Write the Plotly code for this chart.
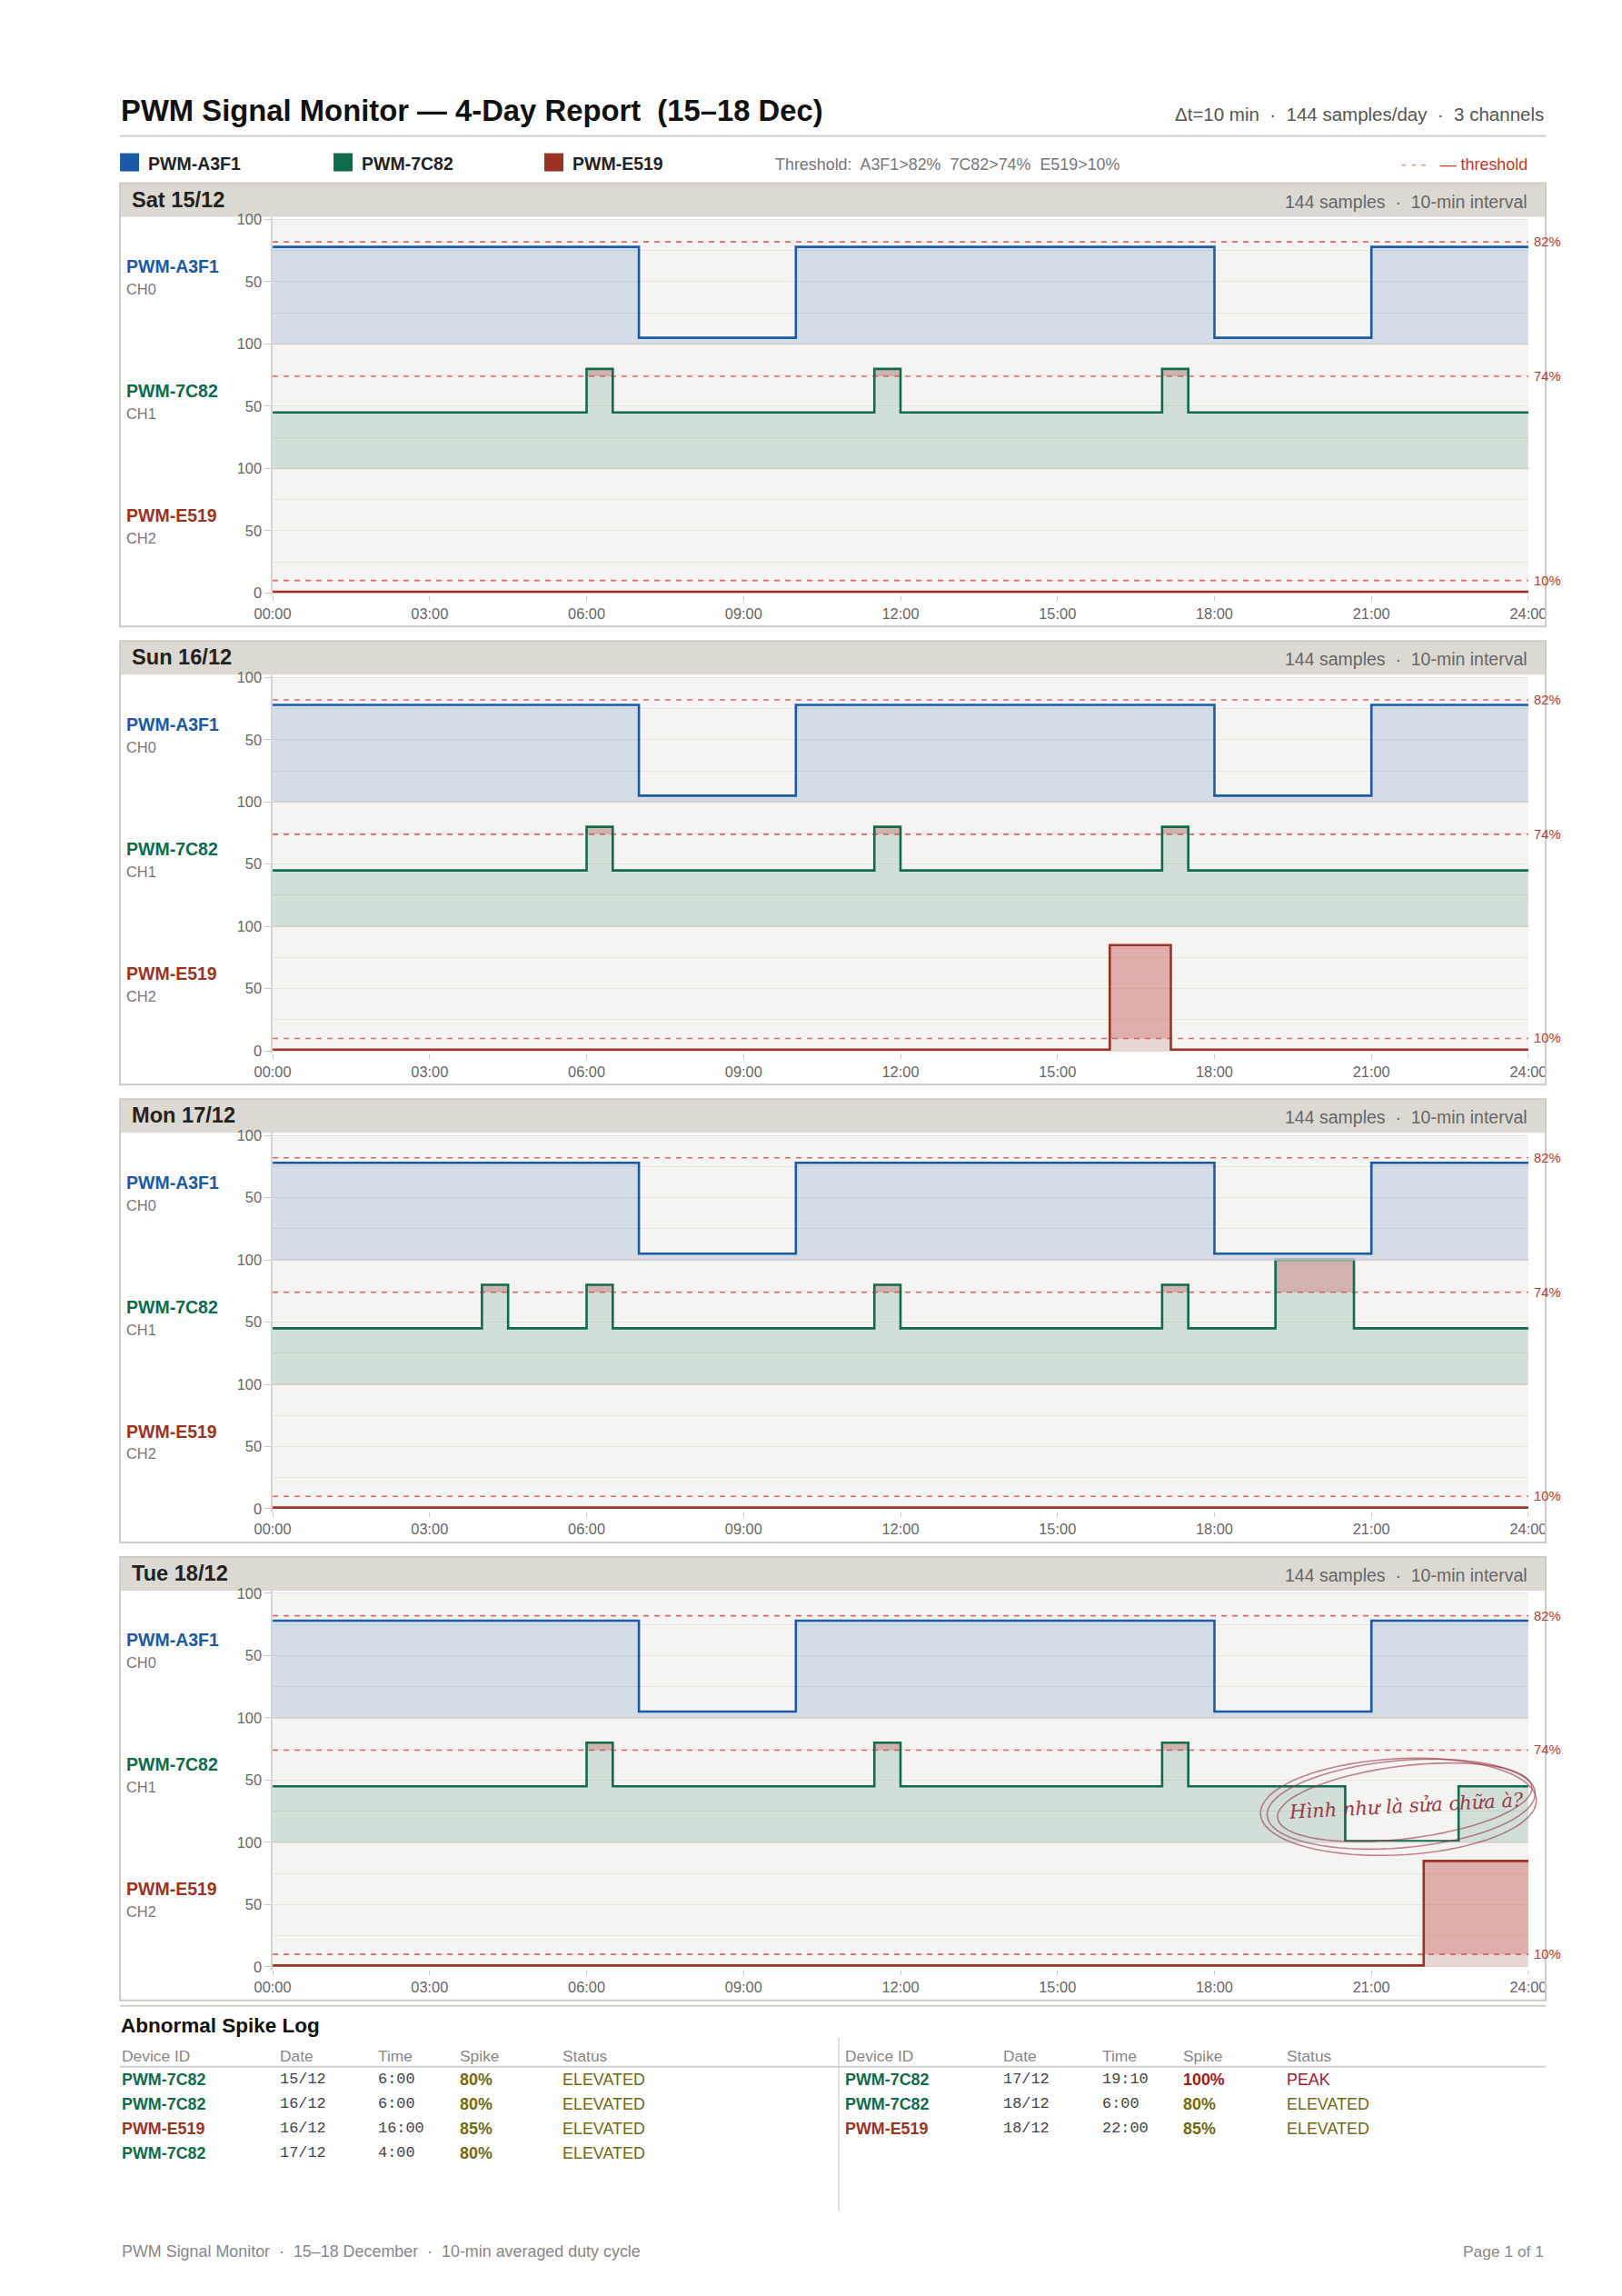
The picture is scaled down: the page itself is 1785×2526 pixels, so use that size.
import math
import plotly.graph_objects as go

# ---------------- data ----------------
days = ["Sat 15/12", "Sun 16/12", "Mon 17/12", "Tue 18/12"]
channel_ids = ["PWM-A3F1", "PWM-7C82", "PWM-E519"]
channel_codes = ["CH0", "CH1", "CH2"]
thresholds = [82, 74, 10]
hour_tick_labels = ["00:00", "03:00", "06:00", "09:00", "12:00", "15:00", "18:00", "21:00", "24:00"]

# step series: time at which each level starts (10-min resolution) and duty cycle %
a3f1_times = [
    ["00:00", "07:00", "10:00", "18:00", "21:00", "24:00"],
    ["00:00", "07:00", "10:00", "18:00", "21:00", "24:00"],
    ["00:00", "07:00", "10:00", "18:00", "21:00", "24:00"],
    ["00:00", "07:00", "10:00", "18:00", "21:00", "24:00"],
]
a3f1_values = [
    [78, 5, 78, 5, 78, 78],
    [78, 5, 78, 5, 78, 78],
    [78, 5, 78, 5, 78, 78],
    [78, 5, 78, 5, 78, 78],
]
c7c82_times = [
    ["00:00", "06:00", "06:30", "11:30", "12:00", "17:00", "17:30", "24:00"],
    ["00:00", "06:00", "06:30", "11:30", "12:00", "17:00", "17:30", "24:00"],
    ["00:00", "04:00", "04:30", "06:00", "06:30", "11:30", "12:00", "17:00", "17:30", "19:10", "20:40", "24:00"],
    ["00:00", "06:00", "06:30", "11:30", "12:00", "17:00", "17:30", "20:30", "22:40", "24:00"],
]
c7c82_values = [
    [45, 80, 45, 80, 45, 80, 45, 45],
    [45, 80, 45, 80, 45, 80, 45, 45],
    [45, 80, 45, 80, 45, 80, 45, 80, 45, 100, 45, 45],
    [45, 80, 45, 80, 45, 80, 45, 1, 45, 45],
]
e519_times = [
    ["00:00", "24:00"],
    ["00:00", "16:00", "17:10", "24:00"],
    ["00:00", "24:00"],
    ["00:00", "22:00", "24:00"],
]
e519_values = [
    [1, 1],
    [1, 85, 1, 1],
    [1, 1],
    [1, 85, 85],
]

log_device = ["PWM-7C82", "PWM-7C82", "PWM-E519", "PWM-7C82", "PWM-7C82", "PWM-7C82", "PWM-E519"]
log_date = ["15/12", "16/12", "16/12", "17/12", "17/12", "18/12", "18/12"]
log_time = ["6:00", "6:00", "16:00", "4:00", "19:10", "6:00", "22:00"]
log_spike = [80, 80, 85, 80, 100, 80, 85]
log_status = ["ELEVATED", "ELEVATED", "ELEVATED", "ELEVATED", "PEAK", "ELEVATED", "ELEVATED"]
log_headers = ["Device ID", "Date", "Time", "Spike", "Status"]

# ---------------- style ----------------
W, H = 1785, 2526
FONT = "Liberation Sans"
MONO = "Liberation Mono"
line_colors = ["#1c5aa6", "#0e6b4c", "#9b3324"]
fill_colors = ["rgba(28,90,166,0.15)", "rgba(14,107,76,0.15)", "rgba(155,51,36,0.15)"]
exceed_fill = "rgba(205,80,80,0.30)"
thr_color = "rgba(210,80,85,0.85)"
thr_label_color = "#c0392b"
band_color = "#dcd9d2"
frame_color = "#cdcbc6"
plot_bg = "#f5f4f2"
grid_color = "#e6e4e0"

PX_L, PX_R = 300, 1682           # plot area x (design px)
ROW_TOP0, ROW_H = 240, 137        # first row top (value 100) and row height
PANEL_DY = 504
PANEL_TOP0 = 200
YPAD = 2.0                        # range padding in data units
SX, OX = 1.024, -21.4             # design-px -> page-px mapping
SY, OY = 1.0048, -5.44


def hx(t):
    h, m = t.split(":")
    return int(h) + int(m) / 60.0


def px(x):
    return (SX * x + OX) / W


def py(y):
    return 1 - (SY * y + OY) / H


def fs(s):
    return round(s * SX, 1)


series_times = [a3f1_times, c7c82_times, e519_times]
series_values = [a3f1_values, c7c82_values, e519_values]

fig = go.Figure()
layout_axes = {}
shapes = []
annotations = []


def note(x, y, text, size, color, anchor="left", family=FONT, **kw):
    annotations.append(dict(xref="paper", yref="paper", x=px(x), y=py(y), xanchor=anchor, yanchor="middle",
                            text=text, showarrow=False, font=dict(family=family, size=fs(size), color=color), **kw))


for p, day in enumerate(days):
    off = PANEL_DY * p
    shapes.append(dict(type="rect", xref="paper", yref="paper", x0=px(132), x1=px(1701),
                       y0=py(PANEL_TOP0 + off), y1=py(PANEL_TOP0 + 37 + off),
                       fillcolor=band_color, line=dict(width=0), layer="below"))
    shapes.append(dict(type="rect", xref="paper", yref="paper", x0=px(PX_L), x1=px(PX_R),
                       y0=py(ROW_TOP0 + off), y1=py(ROW_TOP0 + 3 * ROW_H + off),
                       fillcolor=plot_bg, line=dict(width=0), layer="below"))
    shapes.append(dict(type="rect", xref="paper", yref="paper", x0=px(132), x1=px(1701),
                       y0=py(PANEL_TOP0 + off), y1=py(688 + off),
                       fillcolor="rgba(0,0,0,0)", line=dict(color=frame_color, width=2), layer="above"))
    note(143, 218 + off, "<b>" + day + "</b>", 23, "#222")
    note(1683, 220 + off, "144 samples\u00a0 \u00b7\u00a0 10-min interval", 19, "#666", anchor="right")

    for r in range(3):
        k = 3 * p + r + 1
        top = ROW_TOP0 + ROW_H * r + off
        bot = top + ROW_H
        pad = ROW_H * YPAD / 100.0
        xa = "x" if k == 1 else f"x{k}"
        ya = "y" if k == 1 else f"y{k}"
        last = r == 2
        layout_axes["xaxis" if k == 1 else f"xaxis{k}"] = dict(
            domain=[px(PX_L), px(PX_R)], range=[0, 24], anchor=ya, showgrid=False, zeroline=False,
            tickvals=[0, 3, 6, 9, 12, 15, 18, 21, 24], ticktext=hour_tick_labels,
            showticklabels=last, ticks="outside" if last else "", ticklen=5, tickcolor="#c9c7c2",
            tickfont=dict(family=FONT, size=fs(16), color="#666"), showline=False, fixedrange=True)
        layout_axes["yaxis" if k == 1 else f"yaxis{k}"] = dict(
            domain=[py(bot + pad), py(top - pad)], range=[-YPAD, 100 + YPAD], anchor=xa,
            tickvals=[0, 50, 100] if last else [50, 100], ticks="outside", ticklen=7, tickcolor="#c9c7c2",
            tickfont=dict(family=FONT, size=fs(16), color="#666"), showgrid=True, gridcolor=grid_color,
            gridwidth=1.2, zeroline=False, showline=True, linecolor="#d6d4cf", linewidth=1.5,
            minor=dict(tickvals=[25, 75], showgrid=True, gridcolor=grid_color, gridwidth=1.2, ticks=""),
            fixedrange=True)

        xs = [hx(t) for t in series_times[r][p]]
        vs = series_values[r][p]
        thr = thresholds[r]
        fig.add_trace(go.Scatter(x=xs, y=vs, xaxis=xa, yaxis=ya, mode="lines", line_shape="hv",
                                 line=dict(width=0), fill="tozeroy", fillcolor=fill_colors[r],
                                 hoverinfo="skip"))
        fig.add_trace(go.Scatter(x=xs, y=[thr] * len(xs), xaxis=xa, yaxis=ya, mode="lines",
                                 line_shape="hv", line=dict(width=0), hoverinfo="skip"))
        fig.add_trace(go.Scatter(x=xs, y=[max(v, thr) for v in vs], xaxis=xa, yaxis=ya, mode="lines",
                                 line_shape="hv", line=dict(width=0), fill="tonexty",
                                 fillcolor=exceed_fill, hoverinfo="skip"))
        fig.add_trace(go.Scatter(x=[0, 24], y=[thr, thr], xaxis=xa, yaxis=ya, mode="lines",
                                 line=dict(color=thr_color, width=1.6, dash="6px,6px"), hoverinfo="skip"))
        fig.add_trace(go.Scatter(x=xs, y=vs, xaxis=xa, yaxis=ya, mode="lines", line_shape="hv",
                                 line=dict(color=line_colors[r], width=2.6), hoverinfo="skip"))
        annotations.append(dict(xref="paper", yref=ya, x=px(1686), y=thr, xanchor="left", yanchor="middle",
                                text=f"{thr}%", showarrow=False,
                                font=dict(family=FONT, size=fs(14.5), color=thr_label_color)))
        mid = (top + bot) / 2
        note(137, mid - 17, "<b>" + channel_ids[r] + "</b>", 19, line_colors[r])
        note(137, mid + 8, channel_codes[r], 16, "#777")
        if r < 2:
            shapes.append(dict(type="line", xref="paper", yref="paper", x0=px(PX_L), x1=px(PX_R),
                               y0=py(bot), y1=py(bot), line=dict(color="#cfcdc8", width=1.5), layer="above"))

# ---------------- header ----------------
note(131, 120, "<b>PWM Signal Monitor \u2014 4-Day Report\u00a0 (15\u201318 Dec)</b>", 32, "#111")
note(1701, 124, "\u0394t=10 min \u00a0\u00b7\u00a0 144 samples/day \u00a0\u00b7\u00a0 3 channels", 20, "#555",
     anchor="right")
shapes.append(dict(type="line", xref="paper", yref="paper", x0=px(132), x1=px(1701), y0=py(148), y1=py(148),
                   line=dict(color="#cfcdc8", width=2)))

legend_x = [132, 367, 599]
for i, name in enumerate(channel_ids):
    shapes.append(dict(type="rect", xref="paper", yref="paper", x0=px(legend_x[i]), x1=px(legend_x[i] + 21),
                       y0=py(187), y1=py(167), fillcolor=line_colors[i], line=dict(width=0)))
    note(legend_x[i] + 29, 178, "<b>" + name + "</b>", 19, "#222")
thr_text = "Threshold:\u00a0 " + "\u00a0 ".join(
    f"{cid.split('-')[1]}>{t}%" for cid, t in zip(channel_ids, thresholds))
note(851, 179, thr_text, 17.5, "#777")
note(1683, 179, "<span style='color:#e28a8a'>- - -</span>\u00a0\u00a0 \u2014 threshold", 17.5, "#c0392b",
     anchor="right")

# ---------------- spike log ----------------
shapes.append(dict(type="line", xref="paper", yref="paper", x0=px(132), x1=px(1701), y0=py(2206), y1=py(2206),
                   line=dict(color="#cfcdc8", width=2)))
note(131, 2228, "<b>Abnormal Spike Log</b>", 22, "#111")
col_x = [[132, 306, 414, 504, 617], [928, 1102, 1211, 1300, 1414]]
row_y = [2287, 2314, 2341, 2368]
for side in range(2):
    for c, hname in enumerate(log_headers):
        note(col_x[side][c], 2261, hname, 17, "#888")
shapes.append(dict(type="line", xref="paper", yref="paper", x0=px(132), x1=px(1701), y0=py(2273), y1=py(2273),
                   line=dict(color="#d0cec9", width=2)))
shapes.append(dict(type="line", xref="paper", yref="paper", x0=px(923), x1=px(923), y0=py(2241), y1=py(2432),
                   line=dict(color="#d8d6d1", width=1.5)))
dev_color = {cid: line_colors[i] for i, cid in enumerate(channel_ids)}
for i in range(len(log_device)):
    side = 0 if i < 4 else 1
    yy = row_y[i if i < 4 else i - 4]
    cx = col_x[side]
    sc = "#a01d1d" if log_status[i] == "PEAK" else "#6f6a12"
    note(cx[0], yy, "<b>" + log_device[i] + "</b>", 17.5, dev_color[log_device[i]])
    note(cx[1], yy, log_date[i], 16.5, "#444", family=MONO)
    note(cx[2], yy, log_time[i], 16.5, "#444", family=MONO)
    note(cx[3], yy, f"<b>{log_spike[i]}%</b>", 17.5, sc)
    note(cx[4], yy, log_status[i], 17.5, sc)

# ---------------- footer ----------------
note(132, 2476, "PWM Signal Monitor \u00a0\u00b7\u00a0 15\u201318 December \u00a0\u00b7\u00a0 10-min averaged duty cycle",
     17.5, "#888")
note(1701, 2476, "Page 1 of 1", 17, "#888", anchor="right")


# ---------------- handwritten note ----------------
def loop_path(cx, cy, rx, ry, rot, a0, a1, n=80):
    pts = []
    rr = math.radians(rot)
    for i in range(n + 1):
        a = math.radians(a0 + (a1 - a0) * i / n)
        x, y = rx * math.cos(a), ry * math.sin(a)
        X = cx + x * math.cos(rr) - y * math.sin(rr)
        Y = cy + x * math.sin(rr) + y * math.cos(rr)
        pts.append(f"{px(X):.5f},{py(Y):.5f}")
    return "M " + " L ".join(pts)


for (cx, cy, rx, ry, rot, a0, a1) in [(1542, 1984, 148, 48, -5, -20, 350),
                                      (1546, 1982, 141, 40, -7, 10, 380),
                                      (1539, 1987, 152, 53, -3, 160, 520)]:
    shapes.append(dict(type="path", xref="paper", yref="paper", path=loop_path(cx, cy, rx, ry, rot, a0, a1),
                       line=dict(color="rgba(150,55,70,0.6)", width=1.6), layer="above"))
note(1548, 1986, "<i>H\u00ecnh nh\u01b0 l\u00e0 s\u1eeda ch\u1eefa \u00e0?</i>", 20.5, "#9b3a44",
     anchor="center", family="DejaVu Serif", textangle=-3)

fig.update_layout(width=W, height=H, autosize=False, margin=dict(l=0, r=0, t=0, b=0),
                  paper_bgcolor="white", plot_bgcolor="rgba(0,0,0,0)", showlegend=False,
                  shapes=shapes, annotations=annotations, **layout_axes)
fig.write_html("out.html")
